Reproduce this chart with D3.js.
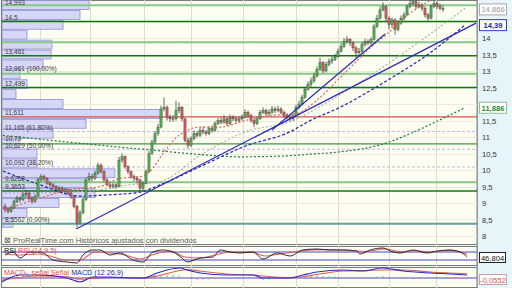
<!DOCTYPE html>
<html><head><meta charset="utf-8">
<script src="https://cdn.jsdelivr.net/npm/d3@7"></script>
<style>body{margin:0;background:#fff}svg{display:block;font-family:"Liberation Sans",Arial,sans-serif}</style>
</head><body><svg id="c" width="512" height="288"></svg>
<script>
// ---------------- DATA ----------------
const opens =[8.90,8.80,8.75,8.85,9.05,9.15,9.10,9.25,9.30,9.15,9.05,9.20,9.70,9.80,9.75,9.60,9.55,9.50,9.40,9.45,9.35,9.40,9.30,9.20,8.90,8.40,8.70,9.10,9.70,9.80,9.75,9.90,10.15,9.95,9.70,9.55,9.50,9.55,9.50,10.30,10.40,10.10,9.95,9.80,9.75,9.70,9.45,9.60,9.95,10.50,10.85,11.10,11.30,11.85,11.90,11.60,11.55,11.55,11.80,11.90,11.55,10.90,10.75,10.95,11.10,11.05,11.20,11.15,11.10,11.25,11.20,11.40,11.50,11.45,11.55,11.40,11.60,11.55,11.50,11.55,11.60,11.75,11.65,11.50,11.40,11.55,11.75,11.80,11.70,11.75,11.85,11.80,11.85,11.75,11.65,11.60,11.55,11.65,11.90,12.00,12.20,12.45,12.60,12.70,12.85,13.05,13.25,13.00,13.20,13.30,13.35,13.45,13.60,13.75,13.90,13.95,13.85,13.70,13.55,13.60,13.80,13.90,13.85,13.95,14.35,14.60,14.85,14.95,14.60,14.40,14.55,14.25,14.45,14.60,14.70,14.95,15.05,15.10,14.95,15.00,14.90,14.70,14.60,14.95,15.05,14.95,14.90];
const highs =[8.98,8.86,8.92,9.10,9.22,9.20,9.33,9.40,9.34,9.20,9.26,9.76,9.88,9.86,9.78,9.66,9.60,9.54,9.52,9.50,9.46,9.44,9.34,9.24,8.94,8.78,9.16,9.78,9.92,9.88,9.98,10.22,10.20,10.00,9.76,9.62,9.62,9.60,10.40,10.50,10.44,10.14,9.98,9.86,9.82,9.74,9.66,10.02,10.58,10.92,11.18,11.40,11.95,12.20,11.96,11.68,11.66,12.10,12.05,11.94,11.58,10.98,11.02,11.20,11.18,11.28,11.30,11.22,11.32,11.34,11.48,11.58,11.60,11.66,11.60,11.68,11.66,11.62,11.62,11.68,11.84,11.80,11.70,11.56,11.62,11.82,11.90,11.86,11.84,11.94,11.92,11.94,11.90,11.80,11.72,11.66,11.72,11.98,12.10,12.28,12.52,12.68,12.80,12.95,13.14,13.40,13.30,13.28,13.38,13.44,13.52,13.68,13.84,14.00,14.05,14.00,13.90,13.76,13.70,13.88,13.98,13.96,14.02,14.42,14.70,14.95,15.08,15.00,14.66,14.62,14.60,14.52,14.68,14.78,15.02,15.14,15.20,15.16,15.10,15.06,14.96,14.76,15.02,15.14,15.12,15.04,14.98];
const lows  =[8.72,8.68,8.70,8.82,9.00,9.02,9.06,9.18,9.08,8.98,9.00,9.18,9.64,9.66,9.55,9.48,9.44,9.34,9.36,9.28,9.30,9.24,9.12,8.84,8.26,8.34,8.66,9.06,9.64,9.66,9.70,9.86,9.90,9.64,9.50,9.44,9.44,9.42,9.48,10.22,10.04,9.88,9.72,9.66,9.60,9.36,9.38,9.56,9.92,10.46,10.80,11.04,11.26,11.78,11.50,11.46,11.46,11.50,11.72,11.48,10.84,10.66,10.70,10.90,10.98,11.00,11.08,11.04,11.06,11.14,11.16,11.36,11.38,11.40,11.34,11.36,11.48,11.44,11.44,11.50,11.56,11.58,11.44,11.30,11.36,11.52,11.70,11.64,11.64,11.70,11.72,11.74,11.68,11.58,11.52,11.48,11.50,11.62,11.84,11.96,12.16,12.40,12.52,12.64,12.80,13.00,12.94,12.96,13.14,13.22,13.30,13.40,13.56,13.70,13.84,13.76,13.60,13.40,13.46,13.56,13.74,13.78,13.80,13.92,14.30,14.56,14.80,14.50,14.26,14.30,14.10,14.20,14.40,14.54,14.66,14.90,14.98,14.88,14.90,14.82,14.62,14.52,14.56,14.90,14.88,14.84,14.80];
const closes=[8.80,8.75,8.85,9.05,9.15,9.10,9.25,9.30,9.15,9.05,9.20,9.70,9.80,9.75,9.60,9.55,9.50,9.40,9.45,9.35,9.40,9.30,9.20,8.90,8.40,8.70,9.10,9.70,9.80,9.75,9.90,10.15,9.95,9.70,9.55,9.50,9.55,9.50,10.30,10.40,10.10,9.95,9.80,9.75,9.70,9.45,9.60,9.95,10.50,10.85,11.10,11.30,11.85,11.90,11.60,11.55,11.55,11.80,11.90,11.55,10.90,10.75,10.95,11.10,11.05,11.20,11.15,11.10,11.25,11.20,11.40,11.50,11.45,11.55,11.40,11.60,11.55,11.50,11.55,11.60,11.75,11.65,11.50,11.40,11.55,11.75,11.80,11.70,11.75,11.85,11.80,11.85,11.75,11.65,11.60,11.55,11.65,11.90,12.00,12.20,12.45,12.60,12.70,12.85,13.05,13.25,13.00,13.20,13.30,13.35,13.45,13.60,13.75,13.90,13.95,13.85,13.70,13.55,13.60,13.80,13.90,13.85,13.95,14.35,14.60,14.85,14.95,14.60,14.40,14.55,14.25,14.45,14.60,14.70,14.95,15.05,15.10,14.95,15.00,14.90,14.70,14.60,14.95,15.05,14.95,14.90,14.87];

// moving averages [bar index, value]
const maFast  =[[0,8.80],[11.7,9.15],[21.7,9.40],[31.7,9.50],[38.3,9.75],[45,9.80],[48.3,9.95],[52.7,10.50],[56.7,10.95],[60.7,11.20],[65,11.30],[71.7,11.30],[80,11.50],[88.3,11.65],[96.7,11.70],[105,12.20],[111.7,12.80],[116.7,13.25],[121.7,13.70],[127.7,14.15],[134.3,14.70],[140,15.05],[146,15.35]];
const maMid   =[[0,9.30],[18.3,9.32],[31.7,9.40],[41.7,9.55],[51.7,9.65],[66,10.50],[80,11.15],[96,11.50],[108.3,12.10],[120.7,12.80],[138.3,13.90],[153.3,14.90]];
const maSlow  =[[-0.7,9.97],[11.7,9.55],[25,9.21],[35,9.25],[45,9.33],[51.7,9.55],[65,10.10],[80,10.72],[96,11.20],[100.7,11.45],[111.7,11.90],[127.7,12.73],[141.7,13.55],[153.3,14.39]];
const maLong  =[[-0.7,11.05],[15,10.90],[31.7,10.75],[51.7,10.58],[65,10.47],[78.3,10.40],[91.7,10.42],[101.7,10.48],[111.7,10.55],[125,10.76],[135,11.10],[145,11.52],[153.3,11.886]];
// trend lines [bar index, value]
const trendA=[[23.7,8.21],[157,14.45]];
const trendB=[[89,11.21],[126.7,14.12]];

// month separators (bar index)
const monthIdx=[11.7,28.3,46.3,62,79.3,97,111,128,143.7];

// volume by price (bins of 0.3 from 15.15 downward)
const vpTop=15.15, vpStep=0.3;
const vpVolume=[87,78,61,25,50,49,41,18,25,14,61,160,84,51,17,35,35,113,83,93,57,25,11];

// horizontal levels
const levelValues=[14.993,14.5,13.87,13.461,12.92,12.499,11.611,11.165,10.79,10.629,10.092,9.6268,9.3653,8.37];
const levelKinds =['light','dark','light','dark','light','dark','red','fib','mid','fib','fib','light','dark','teal'];
const labelTexts =["14,993","14,5","13,461","12,961 (100,00%)","12,499","11,611","11,165 (61,80%)","10,79","10,629 (50,00%)","10,092 (38,20%)","9,6268","9,3653","8,5562 (0,00%)"];
const labelValues=[14.94,14.5,13.461,12.961,12.499,11.611,11.165,10.83,10.629,10.092,9.6268,9.3653,8.37];

// price axis
const priceTicks=[8,8.5,9,9.5,10,10.5,11,11.5,12,12.5,13,13.5,14,14.5,15];
const boxValues=[14.866,14.39,11.886];
const boxTexts=["14,866","14,39","11,886"];
const boxKinds=['last','blue','green'];

// RSI [bar index, value]
const rsiLine=[[0,55],[2.7,70],[5,40],[8.3,70],[12.7,65],[16,30],[20.7,20],[24,15],[26,55],[29,80],[31.7,80],[35,55],[38.3,65],[42.7,30],[46,20],[49.3,70],[52.7,80],[56,70],[59,40],[60.7,20],[65,40],[69.3,45],[71.7,80],[75,70],[78.3,65],[82.7,70],[86,35],[90.7,65],[95,50],[99.3,80],[104,85],[108.3,80],[112.7,80],[117.3,75],[118.3,60],[121.7,80],[126,90],[129.3,70],[131.7,65],[136,80],[140.7,65],[144,75],[148.3,80],[151.7,70],[154,46.804]];
const rsiSignal=[[0,60],[5,55],[10,60],[15,50],[20,30],[25,30],[30,70],[35,65],[40,55],[45,35],[50,60],[55,75],[60,45],[65,40],[70,55],[75,70],[81.7,70],[86.7,50],[91.7,60],[98.3,75],[105,82],[113.3,80],[120,72],[126.7,85],[131.7,72],[136.7,76],[141.7,70],[148.3,78],[154,60]];
const rsiLevels=[30,70];

// MACD [bar index, value]
const macdLine=[[-1.7,-0.2],[5,0.12],[11.7,0.12],[20.7,0.0],[25,-0.16],[29.3,0.04],[35,0.04],[42.7,0.0],[46,0.0],[50.7,0.2],[54,0.32],[58.3,0.4],[60.7,0.32],[65,0.2],[74,0.12],[82.7,0.12],[86,0.0],[95,0.0],[99.3,0.12],[104,0.24],[112.7,0.32],[119.3,0.28],[126,0.4],[132.7,0.28],[141.7,0.2],[148.3,0.16],[154,0.12]];
const macdSignal=[[-1.7,-0.1],[5,0.02],[11.7,0.08],[20.7,0.05],[25,-0.05],[29.3,-0.02],[35,0.02],[42.7,0.02],[46,0.0],[50.7,0.08],[54,0.18],[58.3,0.3],[60.7,0.34],[65,0.28],[74,0.16],[82.7,0.12],[86,0.08],[95,0.02],[99.3,0.05],[104,0.14],[112.7,0.28],[119.3,0.3],[126,0.32],[132.7,0.32],[141.7,0.24],[148.3,0.2],[154,0.17]];
// histogram every 2 bars
const macdHist=[-0.1,0,0.08,0.1,0.07,0.05,0.04,0.02,0,-0.02,-0.04,-0.08,-0.1,-0.06,0.03,0.06,0.04,0.02,0.01,0,-0.01,-0.02,-0.01,0,0.06,0.1,0.13,0.14,0.12,0.1,0,-0.04,-0.07,-0.08,-0.06,-0.05,-0.04,-0.04,-0.02,-0.01,0,0,-0.04,-0.08,-0.06,-0.04,-0.03,-0.02,0.03,0.06,0.08,0.1,0.1,0.08,0.07,0.06,0.04,0.02,0,-0.02,-0.02,0.02,0.06,0.08,0.04,0,-0.04,-0.05,-0.05,-0.04,-0.04,0.02,0.03,-0.02,-0.04,-0.05,-0.05,-0.055];

// ---------------- DRAW ----------------
const svg=d3.select('#c');
const L=2, R=477;
const x=d3.scaleLinear().domain([0,146]).range([5,443]);
const y=d3.scaleLinear().domain([8,14]).range([236,38]);
const yR=d3.scaleLinear().domain([0,100]).range([266,246]);
const yM=d3.scaleLinear().domain([-0.36,0.44]).range([287,267]);
const vx=d3.scaleLinear().domain([0,100]).range([L,L+100]);
const fmt=v=>String(v).replace('.',',');

const defs=svg.append('defs');
const panes=[{id:'cm',t:0,b:245},{id:'cr',t:246,b:266},{id:'cd',t:267,b:288}];
panes.forEach(p=>defs.append('clipPath').attr('id',p.id).append('rect').attr('x',L).attr('y',p.t).attr('width',R-L).attr('height',p.b-p.t));

svg.append('rect').attr('width',512).attr('height',288).attr('fill','#e6f5fa');
panes.forEach(p=>{
  svg.append('rect').attr('x',L-0.5).attr('y',p.t+0.5).attr('width',R-L+0.5).attr('height',p.b-p.t-1)
    .attr('fill','#fdfdf2').attr('stroke','#7a7a7a').attr('stroke-width',1);
  svg.append('g').attr('clip-path',`url(#${p.id})`).selectAll('line').data(monthIdx).join('line')
    .attr('x1',d=>Math.round(x(d))+0.5).attr('x2',d=>Math.round(x(d))+0.5).attr('y1',p.t).attr('y2',p.b)
    .attr('stroke','#deddca').attr('stroke-width',1);
});

const main=svg.append('g').attr('clip-path','url(#cm)');
// horizontal grid
main.selectAll('line.hg').data(priceTicks).join('line').attr('class','hg')
  .attr('x1',L).attr('x2',R).attr('y1',d=>Math.round(y(d))+0.5).attr('y2',d=>Math.round(y(d))+0.5)
  .attr('stroke','#ecebdb').attr('stroke-width',1);

// volume profile
main.selectAll('rect.vp').data(vpVolume).join('rect').attr('class','vp')
  .attr('x',vx(0)).attr('y',(d,k)=>y(vpTop-vpStep*k)+0.5)
  .attr('width',d=>vx(d)-vx(0)).attr('height',(d,k)=>y(vpTop-vpStep*(k+1))-y(vpTop-vpStep*k)-1)
  .attr('fill','#d2d2f6').attr('fill-opacity',0.9).attr('stroke','#9090d4').attr('stroke-width',0.8);

// level lines
const lvlStyle={light:['#86c986',2,null],dark:['#0d7a0d',1.5,null],red:['#d85050',1.2,null],fib:['#b8b8f0',1,'3,2'],mid:['#3f9a3f',1.2,null],teal:['#5fa0a0',2,null]};
main.selectAll('line.lv').data(levelValues).join('line').attr('class','lv')
  .attr('x1',L).attr('x2',R).attr('y1',d=>y(d)).attr('y2',d=>y(d))
  .attr('stroke',(d,i)=>lvlStyle[levelKinds[i]][0]).attr('stroke-width',(d,i)=>lvlStyle[levelKinds[i]][1])
  .attr('stroke-dasharray',(d,i)=>lvlStyle[levelKinds[i]][2]);

// labels
main.selectAll('text.lb').data(labelTexts).join('text').attr('class','lb')
  .attr('x',5).attr('y',(d,i)=>y(labelValues[i])-1.5).text(d=>d)
  .attr('font-size',6.5).attr('fill','#3c3c3c');

// MAs
const line=d3.line().x(d=>x(d[0])).y(d=>y(d[1])).curve(d3.curveMonotoneX);
const drawMA=(data,col,w,dash)=>main.append('path').datum(data).attr('d',line).attr('fill','none')
  .attr('stroke',col).attr('stroke-width',w).attr('stroke-dasharray',dash);
drawMA(maLong,'#1e7a3e',1.2,'2,2');
drawMA(maMid,'#a8a8a8',1.1,'2,2');
drawMA(maSlow,'#2424b4',1.2,'3,2');

// candles
const cg=main.append('g');
cg.selectAll('line').data(closes).join('line')
  .attr('x1',(d,i)=>x(i)).attr('x2',(d,i)=>x(i)).attr('y1',(d,i)=>y(highs[i])).attr('y2',(d,i)=>y(lows[i]))
  .attr('stroke','#3c3c3c').attr('stroke-width',0.8);
cg.selectAll('rect').data(closes).join('rect')
  .attr('x',(d,i)=>x(i)-1.1).attr('width',2.2)
  .attr('y',(d,i)=>y(Math.max(d,opens[i])))
  .attr('height',(d,i)=>Math.max(0.8,Math.abs(y(d)-y(opens[i]))))
  .attr('fill',(d,i)=>d>=opens[i]?'#4fb24f':'#d45a5a').attr('stroke','#333').attr('stroke-width',0.35);

drawMA(maFast,'#e05a4a',1.1,'2,2');
// trend lines
[trendA,trendB].forEach(t=>main.append('line')
  .attr('x1',x(t[0][0])).attr('y1',y(t[0][1])).attr('x2',x(t[1][0])).attr('y2',y(t[1][1]))
  .attr('stroke','#2a2ab8').attr('stroke-width',1.2));

// watermark text
const wm=svg.append('text').attr('x',4).attr('y',242.5).attr('font-size',7.6).attr('fill','#5a5a5a');
wm.append('tspan').text('⊠ ProRealTime.com  Históricos ajustados con dividendos');

// right axis
svg.append('line').attr('x1',R+0.5).attr('x2',R+0.5).attr('y1',0).attr('y2',288).attr('stroke','#9a9a9a');
const boxY=boxValues.map(v=>y(v));
const ticksShown=priceTicks.filter(t=>y(t)<240 && boxY.every(b=>Math.abs(b-y(t))>7));
svg.selectAll('text.tk').data(ticksShown).join('text').attr('class','tk')
  .attr('x',482).attr('y',d=>y(d)+3).text(fmt).attr('font-size',7.6).attr('fill','#333');
const boxStyle={last:['#aaa','#999','normal'],blue:['#3a3ad0','#2020c0','bold'],green:['#8fc08f','#2a8a2a','bold']};
boxValues.forEach((v,i)=>{
  const st=boxStyle[boxKinds[i]];
  svg.append('rect').attr('x',479.5).attr('y',y(v)-5.5).attr('width',27).attr('height',11)
    .attr('fill','#fff').attr('stroke',st[0]).attr('stroke-width',1);
  svg.append('text').attr('x',493).attr('y',y(v)+3).attr('text-anchor','middle').text(boxTexts[i])
    .attr('font-size',7.6).attr('fill',st[1]).attr('font-weight',st[2]);
});

// RSI pane
const rg=svg.append('g').attr('clip-path','url(#cr)');
rg.selectAll('line').data(rsiLevels).join('line').attr('x1',L).attr('x2',R)
  .attr('y1',d=>yR(d)).attr('y2',d=>yR(d)).attr('stroke','#4646d2').attr('stroke-width',1);
const rl=d3.line().x(d=>x(d[0])).y(d=>yR(d[1])).curve(d3.curveMonotoneX);
rg.append('path').datum(rsiSignal).attr('d',rl).attr('fill','none').attr('stroke','#e06060').attr('stroke-width',1.1);
rg.append('path').datum(rsiLine).attr('d',rl).attr('fill','none').attr('stroke','#1a1a1a').attr('stroke-width',0.9);
const rt=svg.append('text').attr('x',4).attr('y',253).attr('font-size',7.2);
rt.append('tspan').text('RSI ').attr('fill','#111');
rt.append('tspan').text('RSI (14,9,5)').attr('fill','#e05050');
svg.append('rect').attr('x',479.5).attr('y',252.5).attr('width',26).attr('height',10).attr('fill','#fff').attr('stroke','#222');
svg.append('text').attr('x',492.5).attr('y',260.5).attr('text-anchor','middle').text('46,804').attr('font-size',7.6).attr('fill','#111');

// MACD pane
const mg=svg.append('g').attr('clip-path','url(#cd)');
mg.append('line').attr('x1',L).attr('x2',R).attr('y1',yM(0)).attr('y2',yM(0)).attr('stroke','#4646d2').attr('stroke-width',1);
mg.selectAll('rect').data(macdHist).join('rect')
  .attr('x',(d,k)=>x(2*k)-0.5).attr('width',1)
  .attr('y',d=>Math.min(yM(d),yM(0))).attr('height',d=>Math.abs(yM(d)-yM(0)))
  .attr('fill',d=>d>=0?'#60c060':'#e08080');
const ml=d3.line().x(d=>x(d[0])).y(d=>yM(d[1])).curve(d3.curveMonotoneX);
mg.append('path').datum(macdSignal).attr('d',ml).attr('fill','none').attr('stroke','#e05a5a').attr('stroke-width',1.1);
mg.append('path').datum(macdLine).attr('d',ml).attr('fill','none').attr('stroke','#2a2ad0').attr('stroke-width',1.1);
const mt=svg.append('text').attr('x',4).attr('y',274.5).attr('font-size',7.2);
mt.append('tspan').text('MACD-, señal ').attr('fill','#e05050');
mt.append('tspan').text('Señal ').attr('fill','#e05050');
mt.append('tspan').text('MACD (12 26,9)').attr('fill','#2020c8');
svg.append('rect').attr('x',479.5).attr('y',274.5).attr('width',27).attr('height',10).attr('fill','#fff').attr('stroke','#c8a0a0');
svg.append('text').attr('x',493).attr('y',282.5).attr('text-anchor','middle').text('-0,0552').attr('font-size',7.6).attr('fill','#e05050');
</script></body></html>
